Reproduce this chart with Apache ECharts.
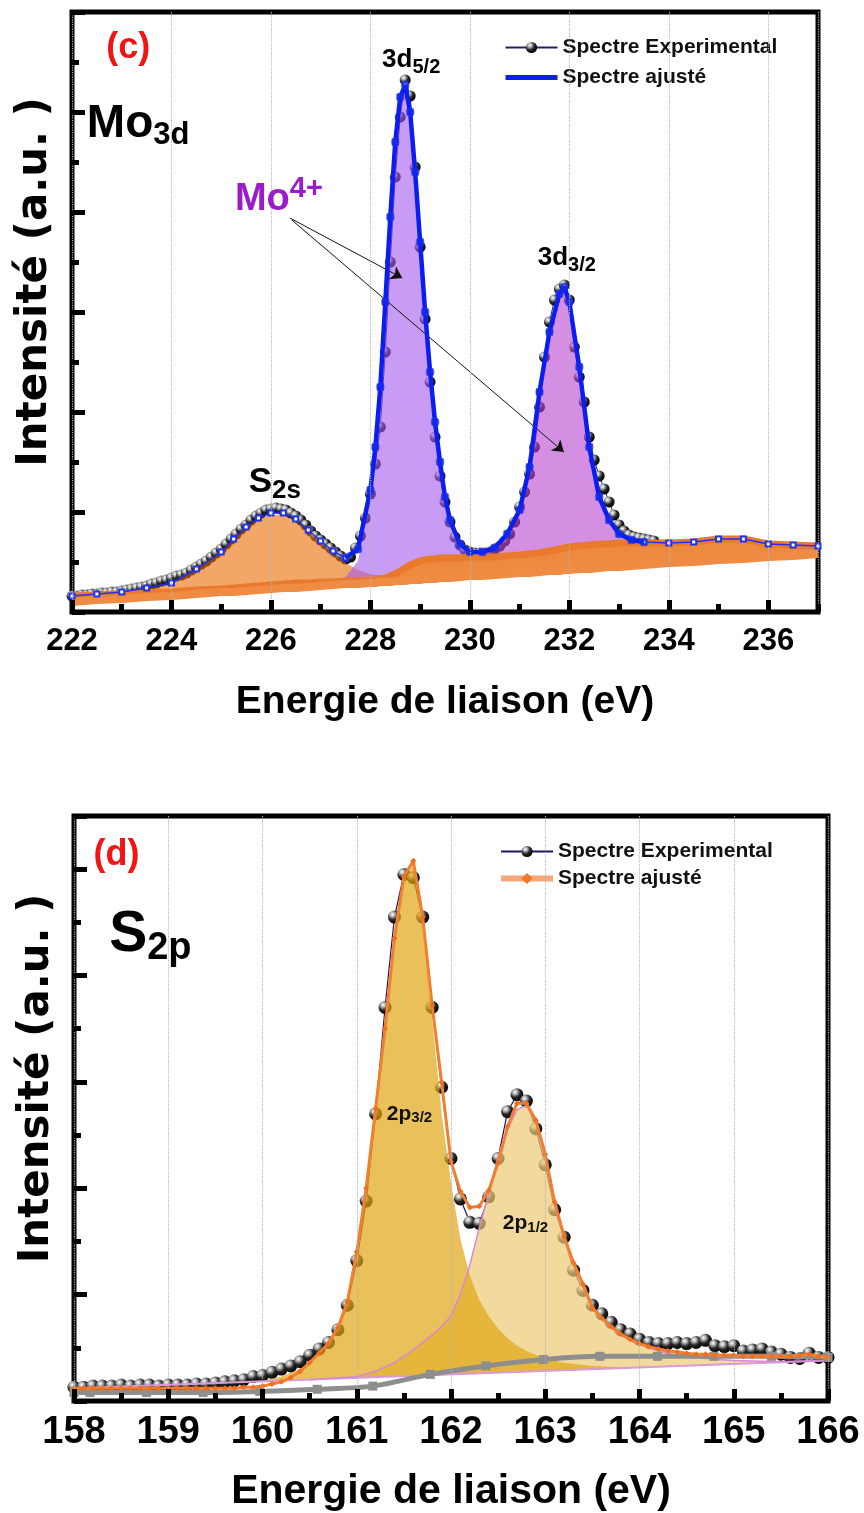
<!DOCTYPE html>
<html>
<head>
<meta charset="utf-8"/>
<title>XPS Mo3d et S2p</title>
<script src="https://cdn.jsdelivr.net/npm/echarts@6/dist/echarts.min.js"></script>
<style>
	body{margin:0;padding:0;background:#fff;}
	#xps{width:864px;height:1513px;}
</style>
</head>
<body>
<div id="xps"></div>
<script>
// ---------- panel (c) Mo3d ----------
// energies of the fit grid (eV)
var energyC = [222.0,222.5,223.0,223.5,224.0,224.5,225.0,225.25,225.5,225.75,226.0,226.25,226.5,226.75,227.0,227.25,227.5,227.75,
	228.0,228.1,228.2,228.3,228.4,228.5,228.6,228.7,228.8,228.9,229.0,229.1,229.2,229.3,229.4,229.5,229.6,229.8,
	230.0,230.25,230.5,230.75,231.0,231.2,231.4,231.6,231.8,231.9,232.0,232.2,232.4,232.6,232.8,233.0,233.25,233.5,
	234.0,234.5,235.0,235.5,236.0,236.5,237.0];
// linear background (lower orange line)
var bgLinC = [-0.40,-0.38,-0.37,-0.35,-0.34,-0.32,-0.30,-0.30,-0.29,-0.28,-0.27,-0.26,-0.26,-0.25,-0.24,-0.23,-0.22,-0.22,
	-0.21,-0.21,-0.20,-0.20,-0.20,-0.19,-0.19,-0.19,-0.18,-0.18,-0.18,-0.17,-0.17,-0.17,-0.16,-0.16,-0.16,-0.15,
	-0.14,-0.14,-0.13,-0.12,-0.11,-0.11,-0.10,-0.09,-0.09,-0.08,-0.08,-0.07,-0.07,-0.06,-0.05,-0.05,-0.04,-0.03,
	-0.01,0.00,0.02,0.03,0.05,0.06,0.08];
// shirley background (upper orange line)
var bgShirC = [-0.34,-0.33,-0.32,-0.31,-0.30,-0.28,-0.27,-0.26,-0.25,-0.24,-0.23,-0.22,-0.21,-0.21,-0.20,-0.20,-0.19,-0.19,
	-0.18,-0.18,-0.17,-0.16,-0.14,-0.12,-0.09,-0.06,-0.03,-0.01,0.01,0.02,0.03,0.03,0.04,0.04,0.04,0.04,
	0.05,0.05,0.05,0.06,0.07,0.08,0.09,0.11,0.13,0.14,0.15,0.16,0.17,0.18,0.18,0.19,0.19,0.19,
	0.19,0.20,0.23,0.23,0.18,0.17,0.16];
// components, height above the shirley background
var s2sC = [0.00,0.01,0.02,0.04,0.08,0.20,0.36,0.48,0.59,0.67,0.70,0.69,0.62,0.51,0.39,0.28,0.18,0.11,
	0.06,0.05,0.04,0.03,0.02,0.01,0,0,0,0,0,0,0,0,0,0,0,0,
	0,0,0,0,0,0,0,0,0,0,0,0,0,0,0,0,0,0,
	0,0,0,0,0,0,0];
var mo52C = [0,0,0,0,0,0,0,0,0,0,0,0,0,0,0,0.01,0.04,0.20,
	0.84,1.28,1.88,2.73,3.57,4.31,4.74,4.83,4.53,3.91,3.19,2.48,1.87,1.37,0.96,0.61,0.37,0.12,
	0.03,0.01,0,0,0,0,0,0,0,0,0,0,0,0,0,0,0,0,
	0,0,0,0,0,0,0];
var mo32C = [0,0,0,0,0,0,0,0,0,0,0,0,0,0,0,0,0,0,
	0,0,0,0,0,0,0,0,0,0,0,0,0,0,0,0,0.01,0.02,
	0.02,0.04,0.09,0.22,0.45,0.87,1.61,2.19,2.55,2.61,2.45,1.79,0.98,0.47,0.24,0.09,0.03,0.01,
	0,0,0,0,0,0,0];
// fitted envelope
var fitC = [-0.34,-0.32,-0.30,-0.26,-0.21,-0.07,0.10,0.23,0.35,0.44,0.49,0.49,0.43,0.32,0.21,0.11,0.04,0.13,
	0.72,1.15,1.75,2.60,3.45,4.20,4.65,4.77,4.50,3.90,3.20,2.50,1.90,1.40,1.00,0.65,0.42,0.18,
	0.10,0.10,0.14,0.28,0.52,0.95,1.70,2.30,2.68,2.75,2.60,1.95,1.15,0.65,0.42,0.28,0.22,0.20,
	0.19,0.20,0.23,0.23,0.18,0.17,0.16];
// experimental spectrum [eV, intensity]
var expC = [[222.0,-0.34],[222.1,-0.34],[222.2,-0.33],[222.3,-0.33],[222.4,-0.32],[222.5,-0.32],[222.6,-0.31],[222.7,-0.31],[222.8,-0.30],[222.9,-0.30],
	[223.0,-0.29],[223.1,-0.28],[223.2,-0.27],[223.3,-0.26],[223.4,-0.25],[223.5,-0.24],[223.6,-0.22],[223.7,-0.21],[223.8,-0.19],[223.9,-0.18],
	[224.0,-0.16],[224.1,-0.14],[224.2,-0.13],[224.3,-0.11],[224.4,-0.08],[224.5,-0.05],[224.6,-0.02],[224.7,0.01],[224.8,0.05],[224.9,0.09],
	[225.0,0.13],[225.1,0.18],[225.2,0.23],[225.3,0.28],[225.4,0.33],[225.5,0.37],[225.6,0.42],[225.7,0.46],[225.8,0.49],[225.9,0.52],
	[226.0,0.53],[226.1,0.54],[226.2,0.53],[226.3,0.52],[226.4,0.49],[226.5,0.46],[226.6,0.42],[226.7,0.37],[226.8,0.31],[226.9,0.26],
	[227.0,0.22],[227.1,0.18],[227.2,0.14],[227.3,0.10],[227.4,0.06],[227.5,0.03],[227.6,0.05],[227.7,0.14],[227.8,0.26],[227.9,0.44],
	[228.0,0.68],[228.1,0.98],[228.2,1.35],[228.3,2.10],[228.4,3.00],[228.5,3.85],[228.6,4.45],[228.7,4.82],[228.8,4.66],[228.9,3.95],
	[229.0,3.15],[229.1,2.43],[229.2,1.80],[229.3,1.25],[229.4,0.86],[229.5,0.60],[229.6,0.40],[229.7,0.25],[229.8,0.17],[229.9,0.12],
	[230.0,0.10],[230.1,0.09],[230.2,0.09],[230.3,0.09],[230.4,0.10],[230.5,0.13],[230.6,0.16],[230.7,0.21],[230.8,0.28],[230.9,0.40],
	[231.0,0.55],[231.1,0.70],[231.2,0.88],[231.3,1.15],[231.4,1.55],[231.5,2.05],[231.6,2.40],[231.7,2.62],[231.8,2.73],[231.9,2.77],
	[232.0,2.62],[232.1,2.15],[232.2,1.85],[232.3,1.60],[232.4,1.25],[232.5,1.02],[232.6,0.86],[232.7,0.73],[232.8,0.60],[232.9,0.47],
	[233.0,0.37],[233.1,0.31],[233.2,0.27],[233.3,0.25],[233.4,0.24],[233.5,0.23],[233.6,0.22],[233.7,0.21]];

// ---------- panel (d) S2p ----------
var expD = [[158.0,-0.37],[158.1,-0.37],[158.2,-0.36],[158.3,-0.36],[158.4,-0.36],[158.5,-0.35],[158.6,-0.36],[158.7,-0.35],[158.8,-0.35],[158.9,-0.36],
	[159.0,-0.35],[159.1,-0.35],[159.2,-0.35],[159.3,-0.34],[159.4,-0.34],[159.5,-0.33],[159.6,-0.32],[159.7,-0.31],[159.8,-0.30],[159.9,-0.27],
	[160.0,-0.26],[160.1,-0.23],[160.2,-0.20],[160.3,-0.17],[160.4,-0.13],[160.5,-0.07],[160.6,-0.01],[160.7,0.05],[160.8,0.17],[160.9,0.40],
	[161.0,0.82],[161.1,1.38],[161.2,2.20],[161.3,3.20],[161.4,4.05],[161.5,4.45],[161.6,4.42],[161.7,4.05],[161.8,3.20],[161.9,2.45],
	[162.0,1.78],[162.1,1.40],[162.2,1.18],[162.3,1.17],[162.4,1.42],[162.5,1.78],[162.6,2.22],[162.7,2.38],[162.8,2.32],[162.9,2.06],
	[163.0,1.72],[163.1,1.30],[163.2,1.04],[163.3,0.73],[163.4,0.54],[163.5,0.40],[163.6,0.32],[163.7,0.24],[163.8,0.17],[163.9,0.13],
	[164.0,0.08],[164.1,0.05],[164.2,0.04],[164.3,0.04],[164.4,0.05],[164.5,0.04],[164.6,0.05],[164.7,0.07],[164.8,0.02],[164.9,0.01],
	[165.0,0.02],[165.1,-0.03],[165.2,-0.02],[165.3,-0.01],[165.4,-0.04],[165.5,-0.06],[165.6,-0.09],[165.7,-0.10],[165.8,-0.05],[165.9,-0.09],
	[166.0,-0.09]];
var fitD = [[158.0,-0.38],[158.1,-0.38],[158.2,-0.38],[158.3,-0.38],[158.4,-0.38],[158.5,-0.38],[158.6,-0.38],[158.7,-0.38],[158.8,-0.38],[158.9,-0.38],
	[159.0,-0.38],[159.1,-0.38],[159.2,-0.38],[159.3,-0.38],[159.4,-0.38],[159.5,-0.38],[159.6,-0.38],[159.7,-0.38],[159.8,-0.37],[159.9,-0.37],
	[160.0,-0.36],[160.1,-0.34],[160.2,-0.32],[160.3,-0.28],[160.4,-0.22],[160.5,-0.14],[160.6,-0.05],[160.7,0.04],[160.8,0.19],[160.9,0.43],
	[161.0,0.90],[161.1,1.50],[161.2,2.25],[161.3,3.00],[161.4,3.85],[161.5,4.43],[161.6,4.58],[161.7,4.05],[161.8,3.22],[161.9,2.50],
	[162.0,1.75],[162.1,1.47],[162.2,1.32],[162.3,1.33],[162.4,1.48],[162.5,1.74],[162.6,2.08],[162.7,2.30],[162.8,2.30],[162.9,2.14],
	[163.0,1.82],[163.1,1.37],[163.2,1.05],[163.3,0.80],[163.4,0.60],[163.5,0.38],[163.6,0.28],[163.7,0.20],[163.8,0.13],[163.9,0.08],
	[164.0,0.04],[164.1,0.01],[164.2,-0.01],[164.3,-0.03],[164.4,-0.04],[164.5,-0.05],[164.6,-0.06],[164.7,-0.06],[164.8,-0.07],[164.9,-0.07],
	[165.0,-0.07],[165.1,-0.08],[165.2,-0.08],[165.3,-0.08],[165.4,-0.08],[165.5,-0.08],[165.6,-0.08],[165.7,-0.07],[165.8,-0.06],[165.9,-0.08],
	[166.0,-0.09]];
// 2p3/2 and 2p1/2 components (top edge, both ends lie on the linear base)
var p32D = [[159.0,-0.35],[159.5,-0.34],[160.0,-0.31],[160.2,-0.27],[160.4,-0.20],[160.5,-0.15],[160.6,-0.07],[160.7,0.02],[160.8,0.17],[160.9,0.41],
	[161.0,0.88],[161.1,1.48],[161.2,2.23],[161.3,2.98],[161.4,3.82],[161.5,4.40],[161.6,4.55],[161.7,3.98],[161.8,3.10],[161.9,2.20],
	[162.0,1.55],[162.1,1.02],[162.2,0.68],[162.3,0.45],[162.4,0.30],[162.5,0.18],[162.6,0.09],[162.7,0.02],[162.8,-0.03],[163.0,-0.10],
	[163.2,-0.14],[163.5,-0.17],[164.0,-0.19],[164.5,-0.17]];
var p12D = [[160.5,-0.30],[161.0,-0.27],[161.2,-0.22],[161.4,-0.14],[161.5,-0.08],[161.6,-0.02],[161.7,0.05],[161.8,0.12],[161.9,0.20],[162.0,0.30],
	[162.1,0.50],[162.2,0.78],[162.3,1.13],[162.4,1.45],[162.5,1.80],[162.6,2.05],[162.7,2.24],[162.8,2.28],[162.9,2.12],[163.0,1.80],
	[163.1,1.35],[163.2,1.03],[163.3,0.78],[163.4,0.58],[163.5,0.37],[163.6,0.27],[163.7,0.19],[163.8,0.12],[163.9,0.07],[164.0,0.03],
	[164.2,-0.03],[164.4,-0.07],[164.7,-0.10],[165.0,-0.12],[165.5,-0.13],[166.0,-0.12]];
var baseD = [[158.0,-0.38],[166.0,-0.12]];
var bgD = [[158.0,-0.42],[158.17,-0.42],[158.77,-0.42],[159.37,-0.42],[159.97,-0.41],[160.58,-0.39],[161.17,-0.36],[161.78,-0.25],
	[162.37,-0.17],[162.98,-0.11],[163.58,-0.08],[164.19,-0.08],[164.79,-0.08],[165.4,-0.08],[166.0,-0.09]];

var legendNames = {expC:'Spectre Experimental', fitC:'Spectre ajusté', expD:'Spectre Experimental', fitD:'Spectre ajusté'};

var FONT = 'Liberation Sans, Arial, Helvetica, sans-serif';
var WIDE = 'DejaVu Sans, Liberation Sans, Arial, sans-serif';
var chart = echarts.init(document.getElementById('xps'));

function sphere(){
	return new echarts.graphic.RadialGradient(0.35, 0.3, 0.75, [
		{offset:0, color:'#ffffff'}, {offset:0.22, color:'#b8b8b8'},
		{offset:0.55, color:'#262626'}, {offset:1, color:'#000000'}]);
}
// filled region between a top edge and a bottom edge, drawn through the axes
function areaBetween(xs, tops, bots, color, xi, yi, z){
	return {
		type:'custom', coordinateSystem:'cartesian2d', xAxisIndex:xi, yAxisIndex:yi,
		z:z, silent:true, clip:true, data:[[xs[0], tops[0]]],
		renderItem:function(params, api){
			var pts = [];
			for(var i=0;i<xs.length;i++) pts.push(api.coord([xs[i], tops[i]]));
			if(bots){
				for(var j=xs.length-1;j>=0;j--) pts.push(api.coord([xs[j], bots[j]]));
			}
			return {type:'polygon', shape:{points:pts}, style:{fill:color}};
		}
	};
}
function col(pairs, k){ return pairs.map(function(p){ return p[k]; }); }
function zip(xs, ys){ return xs.map(function(x, i){ return [x, ys[i]]; }); }
function add(a, b){ return a.map(function(v, i){ return v + b[i]; }); }

var shirTopS2s = add(bgShirC, s2sC);
var shirTop52 = add(bgShirC, mo52C);
var shirTop32 = add(bgShirC, mo32C);
var fitCAll = zip(energyC, fitC);
var fitCMain = fitCAll.filter(function(p){ return p[0] >= 227.5 && p[0] <= 233.5; });

var rich = {
	a:{fontSize:26, fontWeight:'bold', color:'#000', fontFamily:FONT, lineHeight:30},
	as:{fontSize:20, fontWeight:'bold', color:'#000', fontFamily:FONT, padding:[14,0,0,0]},
	s:{fontSize:35, fontWeight:'bold', color:'#000', fontFamily:FONT, lineHeight:38},
	ss:{fontSize:26, fontWeight:'bold', color:'#000', fontFamily:FONT, padding:[18,0,0,0]},
	m:{fontSize:46, fontWeight:'bold', color:'#000', fontFamily:FONT, lineHeight:50},
	ms:{fontSize:31, fontWeight:'bold', color:'#000', fontFamily:FONT, padding:[22,0,0,0]},
	p:{fontSize:38, fontWeight:'bold', color:'#9b1ccb', fontFamily:FONT, lineHeight:42},
	ps:{fontSize:29, fontWeight:'bold', color:'#9b1ccb', fontFamily:FONT, padding:[0,0,22,0]},
	r:{fontSize:36, fontWeight:'bold', color:'#f01414', fontFamily:FONT},
	b:{fontSize:57, fontWeight:'bold', color:'#000', fontFamily:FONT, lineHeight:60},
	bs:{fontSize:38, fontWeight:'bold', color:'#000', fontFamily:FONT, padding:[26,0,0,0]},
	t:{fontSize:21, fontWeight:'bold', color:'#111', fontFamily:FONT, lineHeight:24},
	ts:{fontSize:15, fontWeight:'bold', color:'#111', fontFamily:FONT, padding:[9,0,0,0]}
};
function notes(xi, yi, items, extra){
	var s = {
		type:'scatter', xAxisIndex:xi, yAxisIndex:yi, symbolSize:1, silent:true, z:20,
		itemStyle:{color:'rgba(0,0,0,0)', opacity:1},
		label:{show:true, position:'inside', rich:rich, formatter:function(p){ return p.data.text; }},
		data:items.map(function(t){ return {value:[t[0], t[1]], text:t[2]}; })
	};
	if(extra) s.markLine = extra;
	return s;
}

var labelStyle = {color:'#000', fontWeight:'bold', fontFamily:FONT};
function tick(len){ return {show:true, inside:true, length:len, lineStyle:{color:'#000', width:5}}; }
function noLine(){ return {show:false, onZero:false}; }
var gridDots = {show:true, lineStyle:{color:'#b4b4b4', type:'dotted', width:1.2}};
var yName = {fontSize:42, fontWeight:'bold', color:'#000', fontFamily:WIDE, padding:[0,0,0,60]};
// tick-only y axis drawn above the series
function yTicks(grid, min, max, interval, len, extra){
	var a = {gridIndex:grid, type:'value', position:'left', min:min, max:max, interval:interval, z:10,
		axisLine:noLine(), axisLabel:{show:false}, splitLine:{show:false}, axisTick:tick(len)};
	return Object.assign(a, extra || {});
}

var option = {
	animation:false,
	textStyle:{fontFamily:FONT},
	grid:[
		{left:72, top:12, width:746, height:600, show:true, borderColor:'#000', borderWidth:5},
		{left:74, top:816, width:754, height:586, show:true, borderColor:'#000', borderWidth:5}
	],
	legend:[
		{left:503, top:37, padding:0, orient:'vertical', itemWidth:52, itemHeight:14, itemGap:9, selectedMode:false,
			data:['expC', {name:'fitC', lineStyle:{color:'#0a1ef2', width:5}, itemStyle:{color:'rgba(0,0,0,0)', borderWidth:0}}],
			formatter:function(n){ return legendNames[n]; },
			textStyle:{fontSize:21, fontWeight:'bold', color:'#111', fontFamily:FONT}},
		{left:498, top:841, padding:0, orient:'vertical', itemWidth:52, itemHeight:14, itemGap:6, selectedMode:false,
			data:['expD', {name:'fitD', lineStyle:{color:'#f6a677', width:6}, itemStyle:{color:'#f07a2a'}}],
			formatter:function(n){ return legendNames[n]; },
			textStyle:{fontSize:21, fontWeight:'bold', color:'#111', fontFamily:FONT}}
	],
	xAxis:[
		// (c) labels, major ticks, title and grid lines
		{gridIndex:0, type:'value', position:'bottom', min:222, max:237, interval:2, z:10,
			axisLine:noLine(), axisTick:tick(12),
			axisLabel:Object.assign({fontSize:31, margin:14, showMaxLabel:false}, labelStyle),
			splitLine:gridDots,
			name:'Energie de liaison (eV)', nameLocation:'middle', nameGap:71,
			nameTextStyle:Object.assign({fontSize:39}, labelStyle)},
		// (c) minor ticks
		{gridIndex:0, type:'value', position:'bottom', min:222, max:237, interval:1, z:10,
			axisLine:noLine(), axisTick:tick(8), axisLabel:{show:false}, splitLine:{show:false}},
		// (d) labels, ticks, title and grid lines
		{gridIndex:1, type:'value', position:'bottom', min:158, max:166, interval:1, z:10,
			axisLine:noLine(), axisTick:tick(12),
			minorTick:{show:true, splitNumber:2, length:8, lineStyle:{color:'#000', width:5}},
			axisLabel:Object.assign({fontSize:38, margin:13}, labelStyle),
			splitLine:gridDots,
			name:'Energie de liaison (eV)', nameLocation:'middle', nameGap:70,
			nameTextStyle:Object.assign({fontSize:41}, labelStyle)}
	],
	yAxis:[
		yTicks(0, -0.5, 5.5, 1, 13, {name:'Intensité (a.u. )', nameLocation:'middle', nameGap:16, nameTextStyle:yName}),
		yTicks(0, -0.5, 5.5, 0.5, 7),
		yTicks(1, -0.5, 5.0, 1, 13, {name:'Intensité (a.u. )', nameLocation:'middle', nameGap:16, nameTextStyle:yName}),
		yTicks(1, -0.5, 5.0, 0.5, 7)
	],
	series:[
		// ----- (c) -----
		{name:'expC', type:'line', xAxisIndex:0, yAxisIndex:0, data:expC, z:2,
			symbol:'circle', symbolSize:11, showAllSymbol:true,
			lineStyle:{color:'#2b1a6b', width:1}, itemStyle:{color:sphere()}},
		areaBetween(energyC, shirTopS2s, bgShirC, 'rgba(233,108,0,0.6)', 0, 0, 3),
		areaBetween(energyC, shirTop52, bgShirC, 'rgba(163,88,238,0.6)', 0, 0, 3),
		areaBetween(energyC, shirTop32, bgShirC, 'rgba(183,67,207,0.6)', 0, 0, 3),
		areaBetween(energyC, bgShirC, bgLinC, '#ee8a40', 0, 0, 4),
		{name:'bgShirC', type:'line', xAxisIndex:0, yAxisIndex:0, data:zip(energyC, bgShirC), z:4,
			symbol:'none', lineStyle:{color:'#e97a2c', width:7}},
		{name:'bgLinC', type:'line', xAxisIndex:0, yAxisIndex:0, data:zip(energyC, bgLinC), z:4,
			symbol:'none', lineStyle:{color:'#ef8b42', width:8}},
		{name:'fitCAll', type:'line', xAxisIndex:0, yAxisIndex:0, data:fitCAll, z:5,
			symbol:'emptyRect', symbolSize:5, showAllSymbol:true,
			lineStyle:{color:'#2233ee', width:1.5}, itemStyle:{color:'#2233ee', borderWidth:1}},
		{name:'fitC', type:'line', xAxisIndex:0, yAxisIndex:0, data:fitCMain, z:6,
			symbol:'none', lineStyle:{color:'#0a1ef2', width:4.5}, itemStyle:{color:'#0a1ef2'}},
		{name:'fitCPts', type:'scatter', xAxisIndex:0, yAxisIndex:0, data:fitCMain, z:7,
			symbolSize:9, itemStyle:{color:'rgba(30,50,225,0.45)', opacity:1}},
		notes(0, 0, [
			[223.13, 5.14, '{r|(c)}'],
			[223.33, 4.38, '{m|Mo}{ms|3d}'],
			[228.82, 5.02, '{a|3d}{as|5/2}'],
			[231.95, 3.04, '{a|3d}{as|3/2}'],
			[226.08, 0.80, '{s|S}{ss|2s}'],
			[226.16, 3.62, '{p|Mo}{ps|4+}']
		], {
			silent:true, symbol:['none', 'arrow'], symbolSize:11, animation:false,
			label:{show:false}, lineStyle:{color:'#111', width:1, type:'solid'},
			data:[
				[{coord:[226.38, 3.44]}, {coord:[228.64, 2.84]}],
				[{coord:[226.42, 3.42]}, {coord:[231.89, 1.10]}]
			]
		}),
		// ----- (d) -----
		{name:'expD', type:'line', xAxisIndex:2, yAxisIndex:2, data:expD, z:2,
			symbol:'circle', symbolSize:13, showAllSymbol:true,
			lineStyle:{color:'#2a1060', width:1.2}, itemStyle:{color:sphere()}},
		areaBetween(col(p12D, 0), col(p12D, 1), null, 'rgba(236,201,116,0.7)', 2, 2, 3),
		areaBetween(col(p32D, 0), col(p32D, 1), null, 'rgba(224,165,19,0.7)', 2, 2, 3),
		{name:'baseD', type:'line', xAxisIndex:2, yAxisIndex:2, data:baseD, z:4,
			symbol:'none', lineStyle:{color:'#d99ad8', width:2}},
		{name:'p12D', type:'line', xAxisIndex:2, yAxisIndex:2, data:p12D, z:4,
			symbol:'none', lineStyle:{color:'#d58ad5', width:1.5}},
		{name:'bgD', type:'line', xAxisIndex:2, yAxisIndex:2, data:bgD, z:4, smooth:0.3,
			symbol:'rect', symbolSize:9, lineStyle:{color:'#8e8e8e', width:5}, itemStyle:{color:'#8e8e8e'}},
		{name:'fitD', type:'line', xAxisIndex:2, yAxisIndex:2, data:fitD, z:6,
			symbol:'diamond', symbolSize:6, showAllSymbol:true,
			lineStyle:{color:'#f08030', width:3}, itemStyle:{color:'#f07020'}},
		notes(2, 2, [
			[158.45, 4.63, '{r|(d)}'],
			[158.81, 3.88, '{b|S}{bs|2p}'],
			[161.56, 2.20, '{t|2p}{ts|3/2}'],
			[162.79, 1.17, '{t|2p}{ts|1/2}']
		])
	]
};
chart.setOption(option);
</script>
</body>
</html>
